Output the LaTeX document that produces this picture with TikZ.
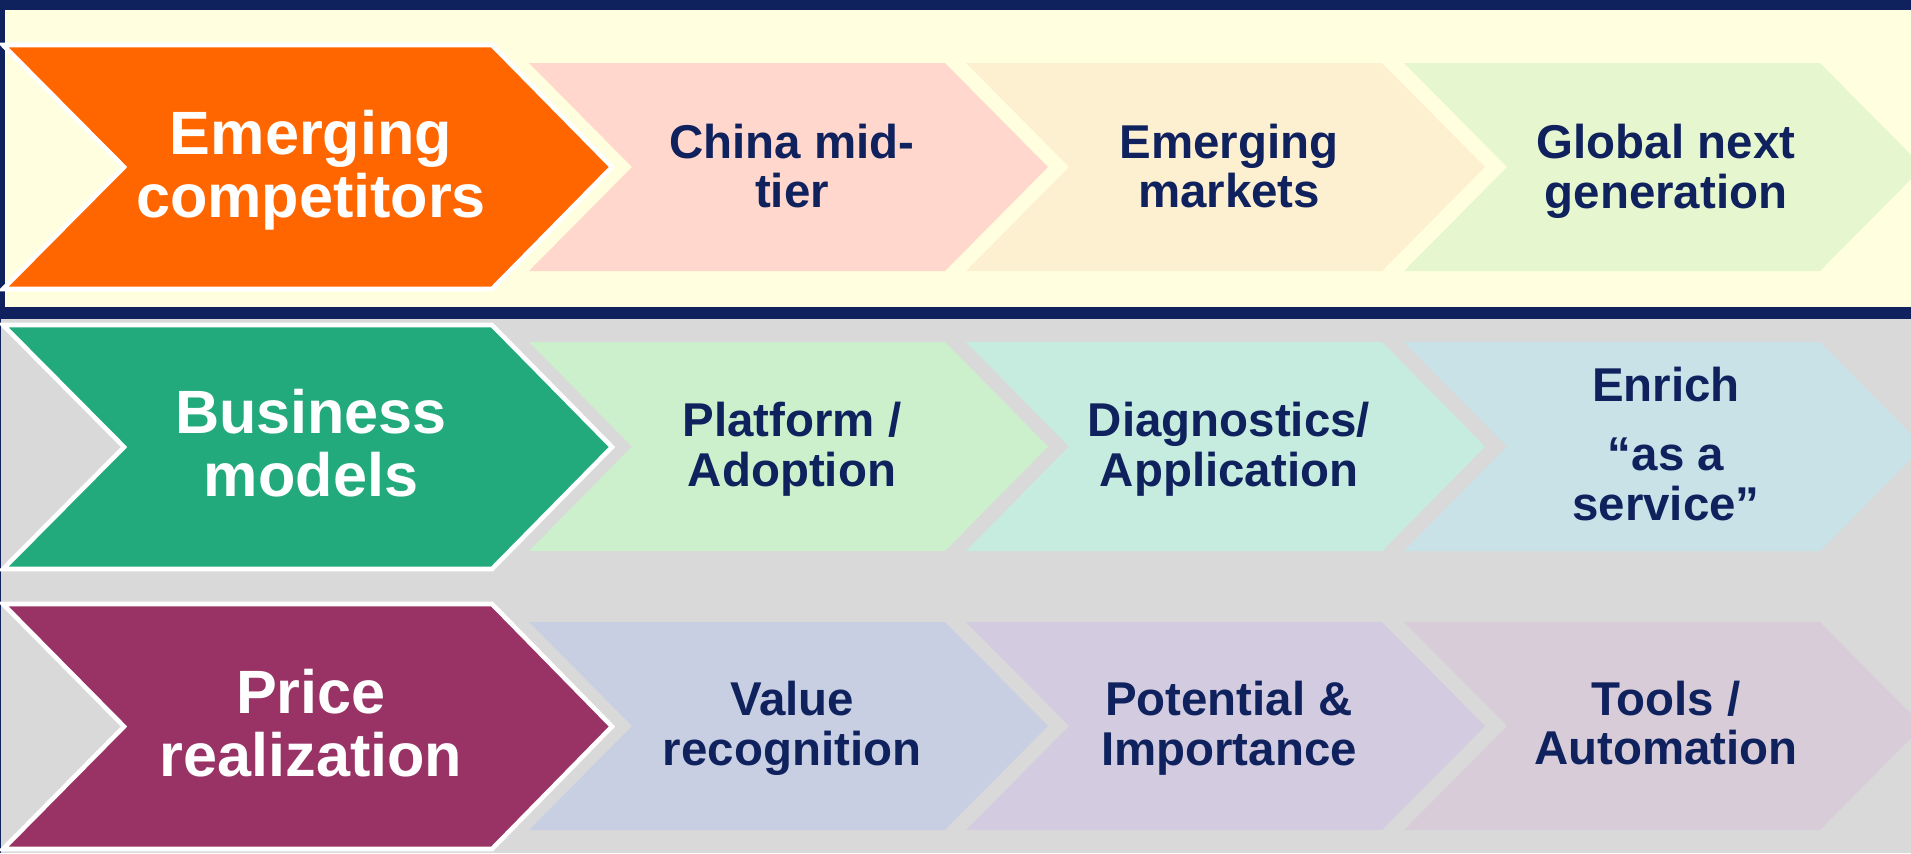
\documentclass[tikz,border=0pt]{standalone}
\usepackage{fontspec}
\setmainfont{Liberation Sans}
\definecolor{navy}{RGB}{15,34,94}
\definecolor{cream}{RGB}{255,255,223}
\definecolor{greybg}{RGB}{217,217,217}
\definecolor{orangeh}{RGB}{255,102,0}
\definecolor{greenh}{RGB}{35,170,124}
\definecolor{plumh}{RGB}{153,51,102}
\definecolor{pinkc}{RGB}{255,215,204}
\definecolor{peachc}{RGB}{253,240,209}
\definecolor{limec}{RGB}{230,246,206}
\definecolor{mintc}{RGB}{204,240,204}
\definecolor{aquac}{RGB}{198,236,223}
\definecolor{icec}{RGB}{200,226,232}
\definecolor{bluegc}{RGB}{201,207,227}
\definecolor{lilacc}{RGB}{211,203,223}
\definecolor{mauvec}{RGB}{216,204,217}

\begin{document}
\begin{tikzpicture}[
  bigchev/.style={draw=white, line width=1.3pt, line join=miter},
  bigtext/.style={text=white, font=\fontsize{17.4}{17.9}\selectfont\bfseries, align=center},
  smalltext/.style={text=navy, font=\fontsize{13.5}{14.2}\selectfont\bfseries, align=center}]
  \useasboundingbox (0,0) rectangle (19.11,-8.53);
  \fill[greybg] (0,0) rectangle (19.11,-8.53);
  \fill[navy] (0,0) rectangle (19.11,-3.19);
  \fill[cream] (0.05,-0.10) rectangle (19.11,-3.07);
  \draw[navy, line width=0.5pt] (0.005,-3.19) -- (0.005,-8.53);
  % row 1
  \filldraw[bigchev, fill=orangeh] (0.03,-0.45) -- (4.92,-0.45) -- (6.12,-1.67) -- (4.92,-2.89) -- (0.03,-2.89) -- (1.24,-1.67) -- cycle;
  \fill[pinkc] (5.29,-0.63) -- (9.45,-0.63) -- (10.48,-1.67) -- (9.45,-2.71) -- (5.29,-2.71) -- (6.32,-1.67) -- cycle;
  \fill[peachc] (9.66,-0.63) -- (13.82,-0.63) -- (14.85,-1.67) -- (13.82,-2.71) -- (9.66,-2.71) -- (10.69,-1.67) -- cycle;
  \fill[limec] (14.04,-0.63) -- (18.20,-0.63) -- (19.23,-1.67) -- (18.20,-2.71) -- (14.04,-2.71) -- (15.07,-1.67) -- cycle;
  \node[bigtext] (emerging) at (3.11,-1.70) {Emerging\\competitors};
  \node[smalltext] (china) at (7.92,-1.66) {China mid-\\tier};
  \node[smalltext] (markets) at (12.29,-1.66) {Emerging\\markets};
  \node[smalltext] (nextgen) at (16.66,-1.71) {Global next\\generation};
  % row 2
  \filldraw[bigchev, fill=greenh] (0.03,-3.25) -- (4.92,-3.25) -- (6.12,-4.47) -- (4.92,-5.69) -- (0.03,-5.69) -- (1.24,-4.47) -- cycle;
  \fill[mintc] (5.29,-3.42) -- (9.45,-3.42) -- (10.48,-4.465) -- (9.45,-5.51) -- (5.29,-5.51) -- (6.32,-4.465) -- cycle;
  \fill[aquac] (9.66,-3.42) -- (13.82,-3.42) -- (14.85,-4.465) -- (13.82,-5.51) -- (9.66,-5.51) -- (10.69,-4.465) -- cycle;
  \fill[icec] (14.04,-3.42) -- (18.20,-3.42) -- (19.23,-4.465) -- (18.20,-5.51) -- (14.04,-5.51) -- (15.07,-4.465) -- cycle;
  \node[bigtext] (business) at (3.11,-4.43) {Business\\models};
  \node[smalltext] (platform) at (7.92,-4.49) {Platform /\\Adoption};
  \node[smalltext] (diagnostics) at (12.29,-4.49) {Diagnostics/\\Application};
  \node[smalltext] (enrich) at (16.66,-4.44) {Enrich\\[5.4pt]“as a\\service”};
  % row 3
  \filldraw[bigchev, fill=plumh] (0.03,-6.04) -- (4.92,-6.04) -- (6.12,-7.265) -- (4.92,-8.49) -- (0.03,-8.49) -- (1.24,-7.265) -- cycle;
  \fill[bluegc] (5.29,-6.22) -- (9.45,-6.22) -- (10.48,-7.26) -- (9.45,-8.30) -- (5.29,-8.30) -- (6.32,-7.26) -- cycle;
  \fill[lilacc] (9.66,-6.22) -- (13.82,-6.22) -- (14.85,-7.26) -- (13.82,-8.30) -- (9.66,-8.30) -- (10.69,-7.26) -- cycle;
  \fill[mauvec] (14.04,-6.22) -- (18.20,-6.22) -- (19.23,-7.26) -- (18.20,-8.30) -- (14.04,-8.30) -- (15.07,-7.26) -- cycle;
  \node[bigtext] (price) at (3.11,-7.23) {Price\\realization};
  \node[smalltext] (value) at (7.92,-7.28) {Value\\recognition};
  \node[smalltext] (potential) at (12.29,-7.28) {Potential \&\\Importance};
  \node[smalltext] (tools) at (16.66,-7.23) {Tools /\\Automation};
\end{tikzpicture}
\end{document}
